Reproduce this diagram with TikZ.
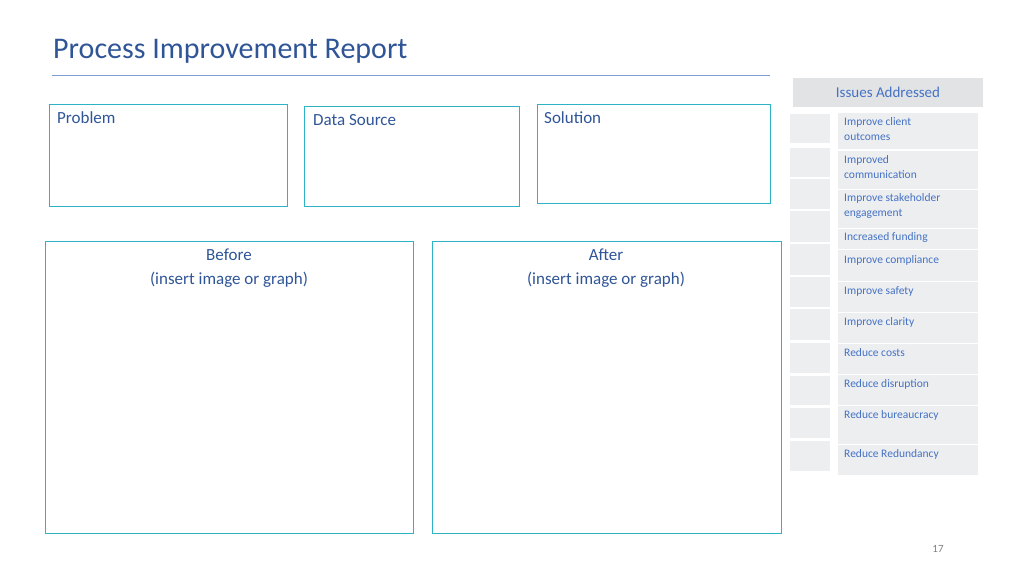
\documentclass[tikz,border=0pt]{standalone}
\usepackage{fontspec}
\setmainfont{Carlito}
\definecolor{tblue}{HTML}{2F5597}
\definecolor{lblue}{HTML}{4472C4}
\definecolor{teal}{HTML}{2DB3C6}
\definecolor{cellg}{HTML}{EDEEF0}
\definecolor{headg}{HTML}{E2E3E5}
\begin{document}
\begin{tikzpicture}[x=1pt,y=-1pt,
  frame/.style={draw=teal,line width=1pt},
  boxlbl/.style={anchor=north west,font=\fontsize{17}{20}\selectfont,text=tblue,inner sep=0},
  cell/.style={fill=cellg,draw=white,line width=1pt},
  celltxt/.style={anchor=north west,align=left,font=\fontsize{11.5}{15.5}\selectfont,text=lblue,inner sep=0}]
\useasboundingbox (0,0) rectangle (1024,576);
\node[anchor=west,font=\fontsize{30}{34}\selectfont,text=tblue,inner sep=0] (title) at (53,51) {Process Improvement Report};
\draw[lblue!70,line width=0.8pt] (52,75) -- (770,75);
% top boxes
\draw[frame] (49,104) rectangle (287,206);
\node[boxlbl] (prob) at (57,111) {Problem};
\draw[frame] (304,106) rectangle (519,206);
\node[boxlbl] (ds) at (313,114) {Data Source};
\draw[frame] (537,104) rectangle (770,203);
\node[boxlbl] (sol) at (544,111) {Solution};
% before/after
\draw[frame] (45,241) rectangle (413,533);
\node[align=center,font=\fontsize{17}{24}\selectfont,text=tblue] (before) at (229,268) {Before\\(insert image or graph)};
\draw[frame] (432,241) rectangle (781,533);
\node[align=center,font=\fontsize{17}{24}\selectfont,text=tblue] (after) at (606,268) {After\\(insert image or graph)};
% issues panel
\fill[headg] (793,78) rectangle (983,107);
\node[font=\fontsize{15}{18}\selectfont,text=lblue] (hdr) at (888,92) {Issues Addressed};
\foreach \a/\b in {113/143,147/177,178/209,210/242,243/275,276/307,308/340,342/373,375/405,407/438,440/471}
  \draw[cell] (789,\a) rectangle (830,\b);
\foreach \a/\b in {112/149,150/189,189/228,228/249,249/281,281/312,312/343,343/374,374/405,405/444,444/475}
  \draw[cell] (837,\a) rectangle (978,\b);
\node[celltxt] (i1) at (844,117) {Improve client\\outcomes};
\node[celltxt] (i2) at (844,155) {Improved\\communication};
\node[celltxt] (i3) at (844,193) {Improve stakeholder\\engagement};
\node[celltxt] (i4) at (844,232) {Increased funding};
\node[celltxt] (i5) at (844,255) {Improve compliance};
\node[celltxt] (i6) at (844,286) {Improve safety};
\node[celltxt] (i7) at (844,317) {Improve clarity};
\node[celltxt] (i8) at (844,348) {Reduce costs};
\node[celltxt] (i9) at (844,379) {Reduce disruption};
\node[celltxt] (i10) at (844,410) {Reduce bureaucracy};
\node[celltxt] (i11) at (844,449) {Reduce Redundancy};
\node[font=\fontsize{11}{13}\selectfont,text=gray] (pg) at (938,549) {17};
\end{tikzpicture}
\end{document}
